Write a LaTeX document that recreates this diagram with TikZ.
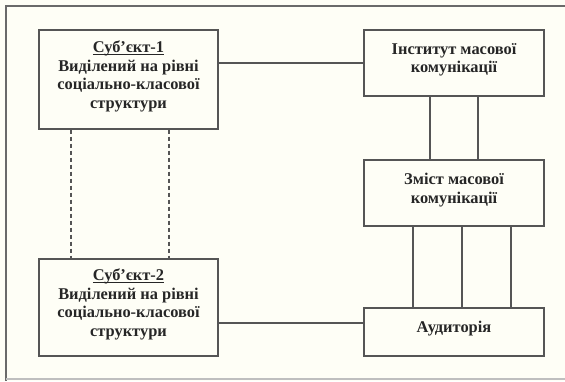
\documentclass[tikz,border=0pt]{standalone}
\usepackage{fontspec}
\setmainfont{Liberation Serif}
% underline set close to the baseline, through descenders
\newcommand\ulinetext[1]{\setbox0=\hbox{#1}\rlap{\rule[-2.2pt]{\wd0}{0.9pt}}\box0}
\begin{document}
\begin{tikzpicture}[x=1pt,y=-1pt,
  box/.style={draw=boxgray,line width=1.4pt,fill=paper,inner sep=0pt},
  txt/.style={align=center,inner sep=0pt,text=textgray,
    font=\fontsize{16.4}{18.5}\selectfont\bfseries},
  link/.style={draw=boxgray,line width=1.3pt},
  dlink/.style={link,dash pattern=on 4pt off 3pt}]
\definecolor{paper}{HTML}{FEFEF6}
\definecolor{boxgray}{HTML}{555555}
\definecolor{textgray}{HTML}{262626}
\definecolor{framegray}{HTML}{6A6A6A}
% page and outer frame
\fill[paper] (0,0) rectangle (565,381);
\useasboundingbox (0,0) rectangle (565,381);
\draw[framegray,line width=1.2pt] (565,6) -- (6,6) -- (6,381);
\draw[black!25,line width=1.2pt] (6,379) -- (565,379);
% boxes
\node[box,minimum width=179pt,minimum height=99pt] (s1) at (128.5,79.5) {};
\node[box,minimum width=179pt,minimum height=97pt] (s2) at (128.5,307.5) {};
\node[box,minimum width=180pt,minimum height=66pt] (inst) at (454,63) {};
\node[box,minimum width=180pt,minimum height=66pt] (cont) at (454,193) {};
\node[box,minimum width=180pt,minimum height=48pt] (aud) at (454,332) {};
% box texts, set a little above the box centres
\node[txt] (s1t) at ([yshift=3pt]s1.center)
  {\ulinetext{Суб’єкт-1}\\Виділений на рівні\\соціально-класової\\структури};
\node[txt] (s2t) at ([yshift=3pt]s2.center)
  {\ulinetext{Суб’єкт-2}\\Виділений на рівні\\соціально-класової\\структури};
\node[txt] (instt) at ([yshift=3pt]inst.center) {Інститут масової\\комунікації};
\node[txt] (contt) at ([yshift=3pt]cont.center) {Зміст масової\\комунікації};
\node[txt] (audt) at ([yshift=3pt]aud.center) {Аудиторія};
% connectors
\draw[link] (s1.east |- inst.west) -- (inst.west);
\draw[link] (s2.east |- 0,323) -- (aud.west |- 0,323);
\draw[dlink] (s1.south -| 71,0) -- (s2.north -| 71,0);
\draw[dlink] (s1.south -| 169,0) -- (s2.north -| 169,0);
\draw[link] (inst.south -| 430,0) -- (cont.north -| 430,0);
\draw[link] (inst.south -| 478,0) -- (cont.north -| 478,0);
\draw[link] (cont.south -| 413,0) -- (aud.north -| 413,0);
\draw[link] (cont.south -| 462,0) -- (aud.north -| 462,0);
\draw[link] (cont.south -| 511,0) -- (aud.north -| 511,0);
\end{tikzpicture}
\end{document}
